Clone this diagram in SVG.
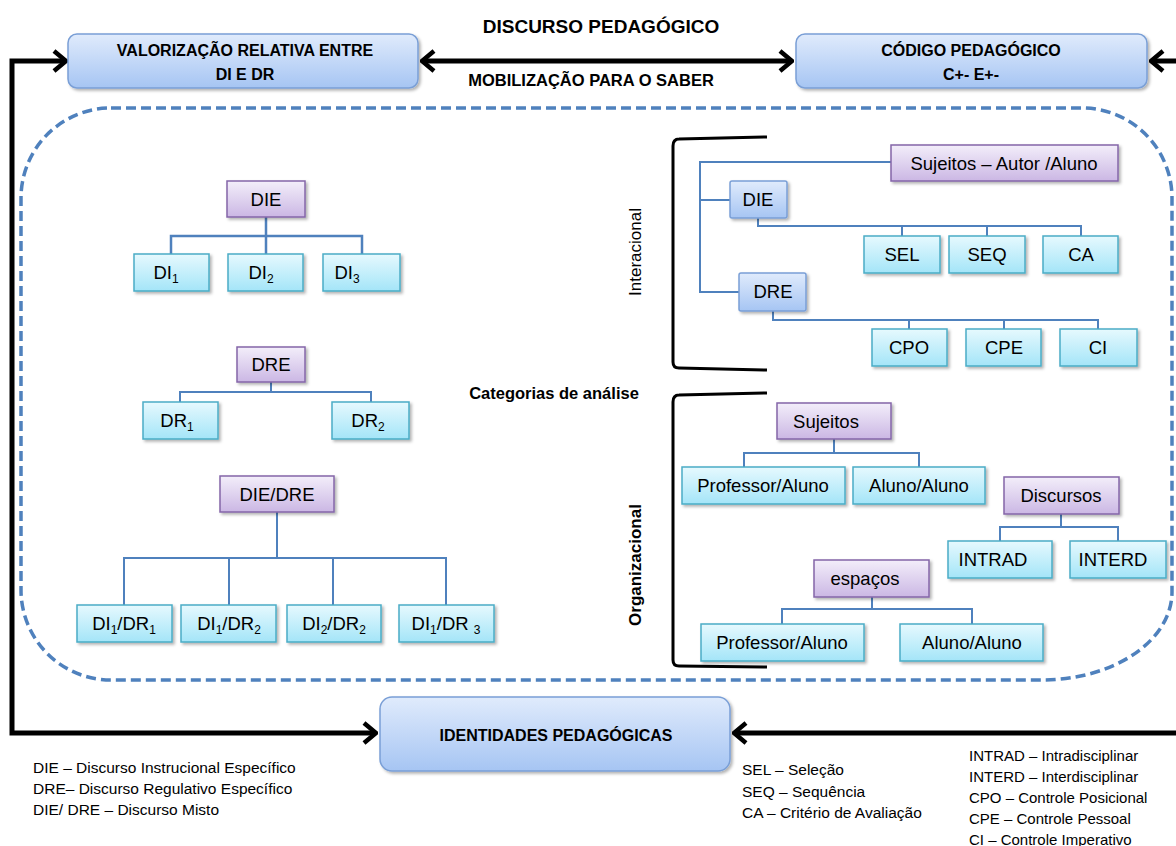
<svg xmlns="http://www.w3.org/2000/svg" width="1176" height="846" viewBox="0 0 1176 846">
<style>
text{font-family:"Liberation Sans",Arial,sans-serif;fill:#000}
.hd{font-weight:bold;font-size:16px;text-anchor:middle}
.lb{font-size:18.5px;text-anchor:middle}
.lg{font-size:15.5px}
.lr{font-size:15px}
.blue{fill:url(#gBlue);stroke:#7a9fd6;stroke-width:1.5;filter:url(#sh)}
.pur{fill:url(#gPur);stroke:#8466a8;stroke-width:1.5;filter:url(#sh)}
.cy{fill:url(#gCy);stroke:#4bacc6;stroke-width:1.5;filter:url(#sh)}
.con{fill:none;stroke:#4f81bd;stroke-width:2.5}
.con2{fill:none;stroke:#4f81bd;stroke-width:2}
.blk{fill:none;stroke:#000;stroke-width:5}
.brk{fill:none;stroke:#000;stroke-width:3}
</style>
<defs>
<linearGradient id="gBlue" x1="0" y1="0" x2="0" y2="1"><stop offset="0" stop-color="#e0ebfc"/><stop offset="1" stop-color="#a6c5f3"/></linearGradient>
<linearGradient id="gPur" x1="0" y1="0" x2="0" y2="1"><stop offset="0" stop-color="#f3eefa"/><stop offset="1" stop-color="#cbb7e4"/></linearGradient>
<linearGradient id="gCy" x1="0" y1="0" x2="0" y2="1"><stop offset="0" stop-color="#e6f9fe"/><stop offset="1" stop-color="#a4e5f8"/></linearGradient>
<filter id="sh" x="-10%" y="-20%" width="125%" height="150%"><feDropShadow dx="2" dy="2" stdDeviation="1.5" flood-color="#000" flood-opacity="0.3"/></filter>
<marker id="arr" markerUnits="userSpaceOnUse" viewBox="0 0 16 24" refX="14" refY="12" markerWidth="16" markerHeight="24" orient="auto-start-reverse">
<path d="M2,2 L14,12 L2,22" fill="none" stroke="#000" stroke-width="4.5"/>
</marker>
</defs>

<rect width="1176" height="846" fill="#fff"/>

<!-- dashed frame -->
<path d="M111,108 H1082 A90,90 0 0 1 1172,198 V592 A130,88 0 0 1 1042,680 H111 A90,90 0 0 1 21,590 V198 A90,90 0 0 1 111,108 Z" fill="none" stroke="#4f81bd" stroke-width="3.5" stroke-dasharray="10,5"/>

<!-- connectors -->
<g id="connectors">
<path class="blk" d="M66,61 H12 V733 H376" marker-start="url(#arr)" marker-end="url(#arr)"/>
<path class="blk" d="M422,61 H792" marker-start="url(#arr)" marker-end="url(#arr)"/>
<path class="blk" d="M1180,61 H1151" marker-end="url(#arr)"/>
<path class="blk" d="M1180,733 H734" marker-end="url(#arr)"/>
<path class="con" d="M266,217 V254 M171,254 V236 H362 V254"/>
<path class="con2" d="M271,382 V392 M180,402 V392 H371 V402"/>
<path class="con2" d="M277,512 V558 M124,605 V558 H446 V605 M229,558 V605 M333,558 V605"/>
<path class="con2" d="M891,162 H700 V292 H739 M700,200 H730"/>
<path class="con2" d="M758,218 V226 H1081 V236 M902,226 V236 M987,226 V236"/>
<path class="con2" d="M773,311 V320 H1098 V329 M909,320 V329 M1004,320 V329"/>
<path class="con2" d="M834,439 V453 M744,467 V453 H919 V467"/>
<path class="con2" d="M1061,514 V527 M1000,541 V527 H1118 V541"/>
<path class="con2" d="M872,597 V609 M782,624 V609 H972 V624"/>
<path class="brk" d="M767,137 L679,139 Q673,139 673,146 V362 Q673,368 679,368 L767,370"/>
<path class="brk" d="M767,393 L679,395 Q673,395 673,402 V660 Q673,666 679,666 L767,667"/>
</g>

<!-- headings -->
<text x="601" y="33" class="hd" style="font-size:19px">DISCURSO PEDAGÓGICO</text>
<text x="591" y="86" class="hd" style="font-size:16.5px">MOBILIZAÇÃO PARA O SABER</text>
<text x="554" y="399" class="hd" style="font-size:16.5px">Categorias de análise</text>
<text transform="translate(641,252) rotate(-90)" style="font-size:17px;text-anchor:middle">Interacional</text>
<text transform="translate(641,565) rotate(-90)" style="font-size:17px;text-anchor:middle;font-weight:bold">Organizacional</text>

<g id="n-valorizacao"><rect class="blue" x="68" y="34" width="350" height="54" rx="9"/><text class="hd" x="245" y="56">VALORIZAÇÃO RELATIVA ENTRE</text><text class="hd" x="245" y="80">DI E DR</text></g>
<g id="n-codigo"><rect class="blue" x="796" y="34" width="351" height="54" rx="9"/><text class="hd" x="971" y="56">CÓDIGO PEDAGÓGICO</text><text class="hd" x="971" y="80">C+- E+-</text></g>
<g id="n-identidades"><rect class="blue" x="380" y="697" width="350" height="74" rx="12"/><text class="hd" x="556" y="741">IDENTIDADES PEDAGÓGICAS</text></g>

<!-- left trees -->
<g id="n-die"><rect class="pur" x="227" y="181" width="78" height="36"/><text class="lb" x="266" y="206">DIE</text></g>
<g id="n-di1"><rect class="cy" x="134" y="254" width="75" height="37"/><text class="lb" x="166" y="279">DI<tspan font-size="12" dy="4">1</tspan></text></g>
<g id="n-di2"><rect class="cy" x="228" y="254" width="75" height="37"/><text class="lb" x="261" y="279">DI<tspan font-size="12" dy="4">2</tspan></text></g>
<g id="n-di3"><rect class="cy" x="323" y="254" width="77" height="37"/><text class="lb" x="347" y="279">DI<tspan font-size="12" dy="4">3</tspan></text></g>

<g id="n-dre"><rect class="pur" x="237" y="347" width="68" height="35"/><text class="lb" x="271" y="371">DRE</text></g>
<g id="n-dr1"><rect class="cy" x="143" y="402" width="75" height="37"/><text class="lb" x="177" y="427">DR<tspan font-size="12" dy="4">1</tspan></text></g>
<g id="n-dr2"><rect class="cy" x="332" y="402" width="77" height="37"/><text class="lb" x="368" y="427">DR<tspan font-size="12" dy="4">2</tspan></text></g>

<g id="n-diedre"><rect class="pur" x="220" y="476" width="114" height="36"/><text class="lb" x="277" y="501">DIE/DRE</text></g>
<g id="n-m1"><rect class="cy" x="77" y="605" width="95" height="37"/><text class="lb" x="124" y="630">DI<tspan font-size="12" dy="4">1</tspan><tspan dy="-4">/DR</tspan><tspan font-size="12" dy="4">1</tspan></text></g>
<g id="n-m2"><rect class="cy" x="181" y="605" width="95" height="37"/><text class="lb" x="229" y="630">DI<tspan font-size="12" dy="4">1</tspan><tspan dy="-4">/DR</tspan><tspan font-size="12" dy="4">2</tspan></text></g>
<g id="n-m3"><rect class="cy" x="287" y="605" width="94" height="37"/><text class="lb" x="334" y="630">DI<tspan font-size="12" dy="4">2</tspan><tspan dy="-4">/DR</tspan><tspan font-size="12" dy="4">2</tspan></text></g>
<g id="n-m4"><rect class="cy" x="399" y="605" width="95" height="37"/><text class="lb" x="446" y="630">DI<tspan font-size="12" dy="4">1</tspan><tspan dy="-4">/DR </tspan><tspan font-size="12" dy="4">3</tspan></text></g>

<!-- interacional -->
<g id="n-sujautor"><rect class="pur" x="891" y="145" width="227" height="36"/><text class="lb" x="1004" y="170">Sujeitos – Autor /Aluno</text></g>
<g id="n-die2"><rect class="blue" x="730" y="181" width="57" height="37" rx="2"/><text class="lb" x="758" y="206">DIE</text></g>
<g id="n-dre2"><rect class="blue" x="739" y="273" width="67" height="38" rx="2"/><text class="lb" x="773" y="298">DRE</text></g>
<g id="n-sel"><rect class="cy" x="864" y="236" width="76" height="37"/><text class="lb" x="902" y="261">SEL</text></g>
<g id="n-seq"><rect class="cy" x="949" y="236" width="76" height="37"/><text class="lb" x="987" y="261">SEQ</text></g>
<g id="n-ca"><rect class="cy" x="1043" y="236" width="75" height="37"/><text class="lb" x="1081" y="261">CA</text></g>
<g id="n-cpo"><rect class="cy" x="872" y="329" width="75" height="37"/><text class="lb" x="909" y="354">CPO</text></g>
<g id="n-cpe"><rect class="cy" x="966" y="329" width="75" height="37"/><text class="lb" x="1004" y="354">CPE</text></g>
<g id="n-ci"><rect class="cy" x="1060" y="329" width="77" height="37"/><text class="lb" x="1098" y="354">CI</text></g>

<!-- organizacional -->
<g id="n-suj"><rect class="pur" x="777" y="403" width="114" height="36"/><text class="lb" x="826" y="428">Sujeitos</text></g>
<g id="n-pa1"><rect class="cy" x="682" y="467" width="163" height="37"/><text class="lb" x="763" y="492">Professor/Aluno</text></g>
<g id="n-aa1"><rect class="cy" x="853" y="467" width="132" height="37"/><text class="lb" x="919" y="492">Aluno/Aluno</text></g>
<g id="n-disc"><rect class="pur" x="1004" y="477" width="115" height="37"/><text class="lb" x="1061" y="502">Discursos</text></g>
<g id="n-intrad"><rect class="cy" x="948" y="541" width="104" height="37"/><text class="lb" x="993" y="566">INTRAD</text></g>
<g id="n-interd"><rect class="cy" x="1070" y="541" width="96" height="37"/><text class="lb" x="1113" y="566">INTERD</text></g>
<g id="n-esp"><rect class="pur" x="814" y="560" width="115" height="37"/><text class="lb" x="865" y="585">espaços</text></g>
<g id="n-pa2"><rect class="cy" x="701" y="624" width="163" height="37"/><text class="lb" x="782" y="649">Professor/Aluno</text></g>
<g id="n-aa2"><rect class="cy" x="900" y="624" width="143" height="37"/><text class="lb" x="972" y="649">Aluno/Aluno</text></g>

<!-- legends -->
<g id="legend-left">
<text class="lg" x="33" y="773">DIE – Discurso Instrucional Específico</text>
<text class="lg" x="33" y="794">DRE– Discurso Regulativo Específico</text>
<text class="lg" x="33" y="815">DIE/ DRE – Discurso Misto</text>
</g>
<g id="legend-mid">
<text class="lg" x="742" y="775">SEL – Seleção</text>
<text class="lg" x="742" y="797">SEQ – Sequência</text>
<text class="lg" x="742" y="818">CA – Critério de Avaliação</text>
</g>
<g id="legend-right">
<text class="lr" x="969" y="761">INTRAD – Intradisciplinar</text>
<text class="lr" x="969" y="782">INTERD – Interdisciplinar</text>
<text class="lr" x="969" y="803">CPO – Controle Posicional</text>
<text class="lr" x="969" y="824">CPE – Controle Pessoal</text>
<text class="lr" x="969" y="845">CI – Controle Imperativo</text>
</g>
</svg>
